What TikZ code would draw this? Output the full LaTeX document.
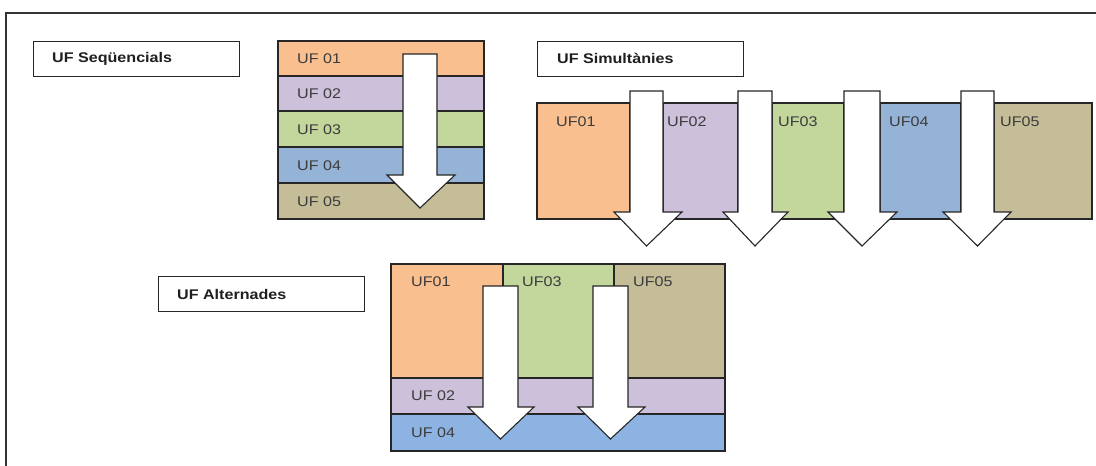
\documentclass[tikz,border=0pt]{standalone}
\usepackage{fontspec}
\setmainfont[FakeStretch=1.15]{Liberation Sans}
\definecolor{cor}{HTML}{F9BF8F}
\definecolor{cpu}{HTML}{CCC0DA}
\definecolor{cgr}{HTML}{C3D69B}
\definecolor{cbl}{HTML}{95B3D7}
\definecolor{cbl2}{HTML}{8DB3E2}
\definecolor{ctn}{HTML}{C4BD97}
\definecolor{ctx}{HTML}{3C3C3C}
\newcommand{\ufarrow}[7]{%
  \draw[arr] (#1,#3) -- (#2,#3) -- (#2,#4) -- (#6,#4) -- ({(#1+#2)/2},#7) -- (#5,#4) -- (#1,#4) -- cycle;}
\begin{document}
\begin{tikzpicture}[x=1pt,y=-1pt,
  box/.style={draw=black!85,line width=1.1pt},
  lbl/.style={draw=black!85,line width=1.1pt,fill=white,minimum width=206pt,minimum height=35pt,inner sep=0pt,anchor=north west},
  lbltext/.style={anchor=west,font=\fontsize{14}{16}\selectfont\bfseries,text=black!88,inner sep=0pt},
  uft/.style={anchor=west,font=\fontsize{14}{16}\selectfont,text=ctx,inner sep=0pt},
  arr/.style={draw=black!85,line width=1.1pt,fill=white,line join=miter}]
\useasboundingbox (0,0) rectangle (1096,466);
% outer frame
\draw[line width=2.2pt,black!80] (6,470) -- (6,13) -- (1100,13);
% labels
\node[lbl] (lseq) at (33,41) {};
\node[lbltext] (tseq) at (52,58.5) {UF Seqüencials};
\node[lbl] (lsim) at (537,41) {};
\node[lbltext] (tsim) at (557,58.5) {UF Simultànies};
\node[lbl] (lalt) at (158,276) {};
\node[lbltext] (talt) at (177,294.5) {UF Alternades};
% sequential stack
\draw[box,fill=cor] (278,41) rectangle (484,76);
\draw[box,fill=cpu] (278,76) rectangle (484,111);
\draw[box,fill=cgr] (278,111) rectangle (484,147);
\draw[box,fill=cbl] (278,147) rectangle (484,183);
\draw[box,fill=ctn] (278,183) rectangle (484,219);
\draw[line width=2.6pt,black!85] (278,76) -- (484,76);
\node[uft] (s1) at (297,58.5) {UF 01};
\node[uft] (s2) at (297,94) {UF 02};
\node[uft] (s3) at (297,129.5) {UF 03};
\node[uft] (s4) at (297,165.5) {UF 04};
\node[uft] (s5) at (297,201.5) {UF 05};
\ufarrow{403}{437}{54}{175}{387}{455}{208}
% simultaneous
\draw[box,fill=cor] (537,103) rectangle (630,219);
\draw[box,fill=cpu] (663,103) rectangle (738,219);
\draw[box,fill=cgr] (772,103) rectangle (844,219);
\draw[box,fill=cbl] (880,103) rectangle (961,219);
\draw[box,fill=ctn] (994,103) rectangle (1092,219);
\node[uft] (m1) at (556,122) {UF01};
\node[uft] (m2) at (667,122) {UF02};
\node[uft] (m3) at (778,122) {UF03};
\node[uft] (m4) at (889,122) {UF04};
\node[uft] (m5) at (1000,122) {UF05};
\ufarrow{630}{663}{91}{212}{614}{682}{246}
\ufarrow{738}{772}{91}{212}{723}{788}{246}
\ufarrow{844}{880}{91}{212}{828}{897}{246}
\ufarrow{961}{994}{91}{212}{943}{1011}{246}
% alternating
\draw[box,fill=cor] (391,264) rectangle (503,378);
\draw[box,fill=cgr] (503,264) rectangle (614,378);
\draw[box,fill=ctn] (614,264) rectangle (725,378);
\draw[box,fill=cpu] (391,378) rectangle (725,414);
\draw[box,fill=cbl2] (391,414) rectangle (725,451);
\node[uft] (a1) at (411,282) {UF01};
\node[uft] (a3) at (522,282) {UF03};
\node[uft] (a5) at (633,282) {UF05};
\node[uft] (a2) at (411,396) {UF 02};
\node[uft] (a4) at (411,433) {UF 04};
\ufarrow{483}{518}{286}{407}{468}{534}{439}
\ufarrow{593}{628}{286}{407}{578}{645}{439}
\end{tikzpicture}
\end{document}
